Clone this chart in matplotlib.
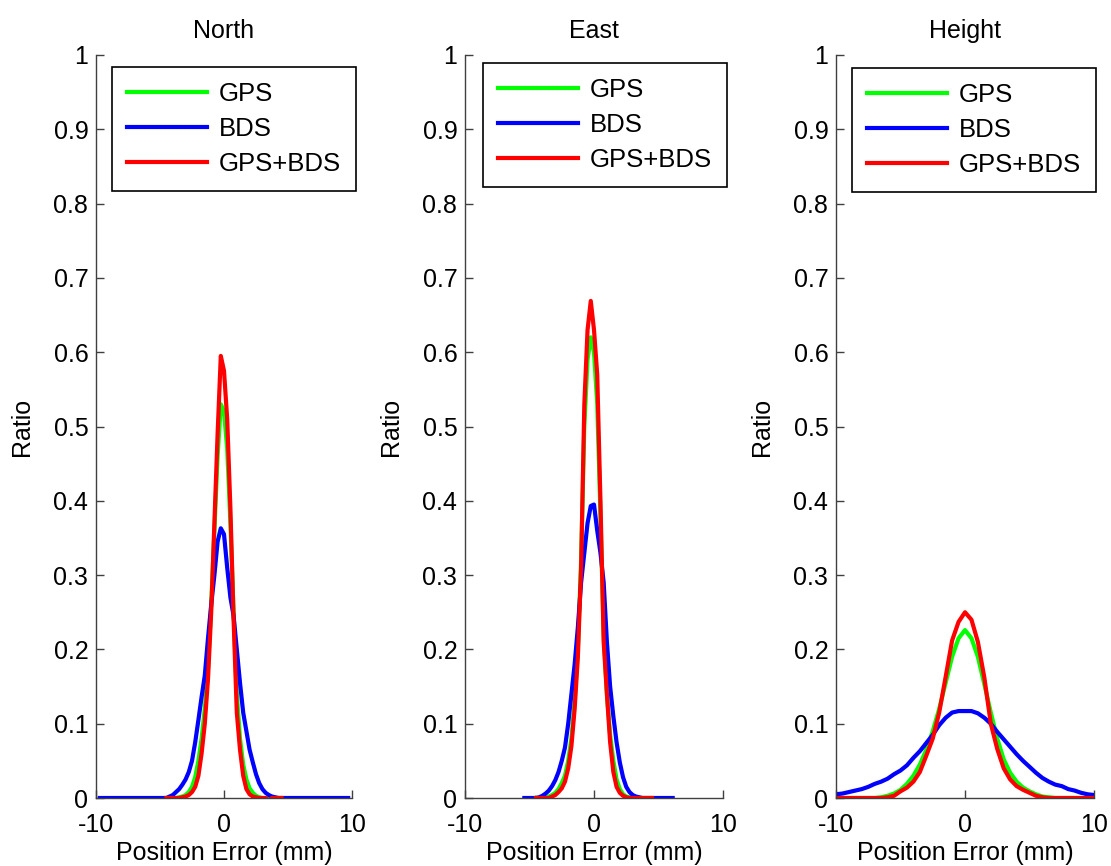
import numpy as np
import matplotlib
matplotlib.use("Agg")
import matplotlib.pyplot as plt

plt.rcParams['font.family'] = ['Liberation Sans', 'DejaVu Sans']
plt.rcParams['axes.unicode_minus'] = False

# --- North ---
north_x = np.arange(-4.5, 4.75, 0.25)
north_gps = [0, 0, 0, 0, 0.001, 0.002, 0.004, 0.008, 0.015, 0.028, 0.05, 0.08, 0.12, 0.175,
             0.26, 0.36, 0.46, 0.53, 0.52, 0.47, 0.37, 0.25, 0.14, 0.08, 0.045, 0.025,
             0.013, 0.007, 0.003, 0.001, 0, 0, 0, 0, 0, 0, 0]
north_bds = [0, 0.002, 0.004, 0.008, 0.012, 0.018, 0.025, 0.035, 0.05, 0.075, 0.105, 0.136,
             0.165, 0.215, 0.26, 0.30, 0.345, 0.363, 0.355, 0.31, 0.27, 0.245, 0.20, 0.155,
             0.115, 0.09, 0.065, 0.048, 0.032, 0.02, 0.012, 0.007, 0.004, 0.002, 0.001, 0, 0]
north_gpsbds = [0, 0, 0, 0, 0, 0.001, 0.002, 0.004, 0.008, 0.015, 0.03, 0.06, 0.10, 0.16,
                0.25, 0.37, 0.49, 0.595, 0.575, 0.51, 0.39, 0.24, 0.115, 0.065, 0.03, 0.012,
                0.005, 0.002, 0.001, 0, 0, 0, -0.003, 0, 0, 0, 0]

# --- East ---
east_x = np.arange(-4.5, 4.75, 0.25)
east_gps = [0, -0.004, -0.002, 0, 0.002, 0.004, 0.007, 0.012, 0.02, 0.03, 0.05, 0.08, 0.13,
            0.20, 0.32, 0.50, 0.59, 0.62, 0.60, 0.53, 0.38, 0.22, 0.14, 0.085, 0.05, 0.025,
            0.012, 0.005, 0.002, 0.001, 0, 0, 0, 0, 0, 0, 0]
east_bds = [0, 0.001, 0.003, 0.006, 0.01, 0.016, 0.024, 0.035, 0.05, 0.068, 0.10, 0.14, 0.18,
            0.23, 0.29, 0.33, 0.37, 0.393, 0.395, 0.36, 0.33, 0.29, 0.21, 0.15, 0.11, 0.075,
            0.048, 0.028, 0.015, 0.008, 0.004, 0.002, 0.001, 0, 0, 0, 0]
east_gpsbds = [0, 0, 0, 0, 0, 0.002, 0.004, 0.008, 0.013, 0.022, 0.04, 0.07, 0.12, 0.19,
               0.31, 0.53, 0.63, 0.669, 0.63, 0.57, 0.40, 0.21, 0.14, 0.075, 0.035, 0.015,
               0.007, 0.003, 0.001, 0, 0, 0, 0, 0, 0, 0, 0]

# --- Height ---
height_x = np.arange(-10, 10.5, 0.5)
height_gps = [0, 0, 0, 0, 0, 0, 0, 0.001, 0.003, 0.006, 0.011, 0.019, 0.03, 0.045, 0.065,
              0.09, 0.12, 0.155, 0.19, 0.215, 0.226, 0.215, 0.19, 0.153, 0.115, 0.08, 0.052,
              0.034, 0.022, 0.014, 0.009, 0.005, 0.002, 0.001, 0, 0, 0, 0, 0, 0, 0]
height_bds = [0.005, 0.006, 0.008, 0.01, 0.012, 0.015, 0.019, 0.022, 0.026, 0.032, 0.037,
              0.044, 0.054, 0.063, 0.074, 0.085, 0.098, 0.108, 0.115, 0.117, 0.117, 0.117,
              0.114, 0.108, 0.10, 0.089, 0.079, 0.069, 0.059, 0.05, 0.042, 0.034, 0.027,
              0.022, 0.018, 0.016, 0.012, 0.01, 0.007, 0.005, 0.004]
height_gpsbds = [0, 0, 0, 0, 0, 0, 0, 0, 0.001, 0.003, 0.009, 0.014, 0.022, 0.035, 0.057,
                 0.08, 0.115, 0.163, 0.212, 0.237, 0.25, 0.24, 0.21, 0.162, 0.10, 0.066, 0.04,
                 0.025, 0.016, 0.011, 0.007, 0.003, 0.001, 0, 0, 0, 0, 0, 0, 0, 0]

# BDS tails (flat zero segments out to the ends of the data)
north_bds_ends = (-9.7, 9.7)
east_bds_ends = (-5.4, 6.1)

panels = [
    ("North", north_x, north_gps, north_bds, north_gpsbds, north_bds_ends),
    ("East", east_x, east_gps, east_bds, east_gpsbds, east_bds_ends),
    ("Height", height_x, height_gps, height_bds, height_gpsbds, None),
]

W, H = 1111, 866
fig = plt.figure(figsize=(W / 100, H / 100), dpi=100)
# axes spans in pixels (left, right) and legend top-left corners
cols = [(96, 352), (465, 723), (836, 1094)]
legend_corners = [(112, 67), (483, 63), (852, 68)]
top, bottom = 55, 798

for (name, x, gps, bds, both, ends), (x0, x1), (lx, ly) in zip(panels, cols, legend_corners):
    ax = fig.add_axes([x0 / W, (H - bottom) / H, (x1 - x0) / W, (bottom - top) / H])
    bx, by = np.asarray(x, float), np.asarray(bds, float)
    if ends is not None:
        bx = np.r_[ends[0], bx, ends[1]]
        by = np.r_[0, by, 0]
    ax.plot(x, gps, color=(0, 1, 0), lw=3, label='GPS')
    ax.plot(bx, by, color=(0, 0, 1), lw=3, label='BDS')
    ax.plot(x, both, color=(1, 0, 0), lw=3, label='GPS+BDS')

    ax.set_xlim(-10, 10)
    ax.set_ylim(0, 1)
    ax.set_xticks([-10, 0, 10])
    ax.set_yticks(np.arange(0, 1.01, 0.1))
    ax.set_yticklabels(['0', '0.1', '0.2', '0.3', '0.4', '0.5', '0.6', '0.7', '0.8', '0.9', '1'])
    for s in ['top', 'right']:
        ax.spines[s].set_visible(False)
    for s in ['left', 'bottom']:
        ax.spines[s].set_color('#404040')
        ax.spines[s].set_linewidth(1.0)
    ax.tick_params(direction='in', length=6, width=1, color='#404040', labelsize=18)
    ax.tick_params(axis='y', pad=5.5)
    ax.tick_params(axis='x', pad=11)

    ax.set_title(name, fontsize=18, pad=12)
    ax.set_xlabel('Position Error (mm)', fontsize=18, labelpad=3)
    ax.set_ylabel('Ratio', fontsize=18, labelpad=14)

    leg = ax.legend(loc='upper left', bbox_to_anchor=(lx / W, 1 - ly / H),
                    bbox_transform=fig.transFigure, borderaxespad=0,
                    fontsize=18.5, frameon=True, fancybox=False,
                    edgecolor='black', framealpha=1, handlelength=3.1, handletextpad=0.45,
                    labelspacing=0.42, borderpad=0.6)
    leg.get_frame().set_linewidth(1.2)

fig.savefig('out.png', dpi=100)
